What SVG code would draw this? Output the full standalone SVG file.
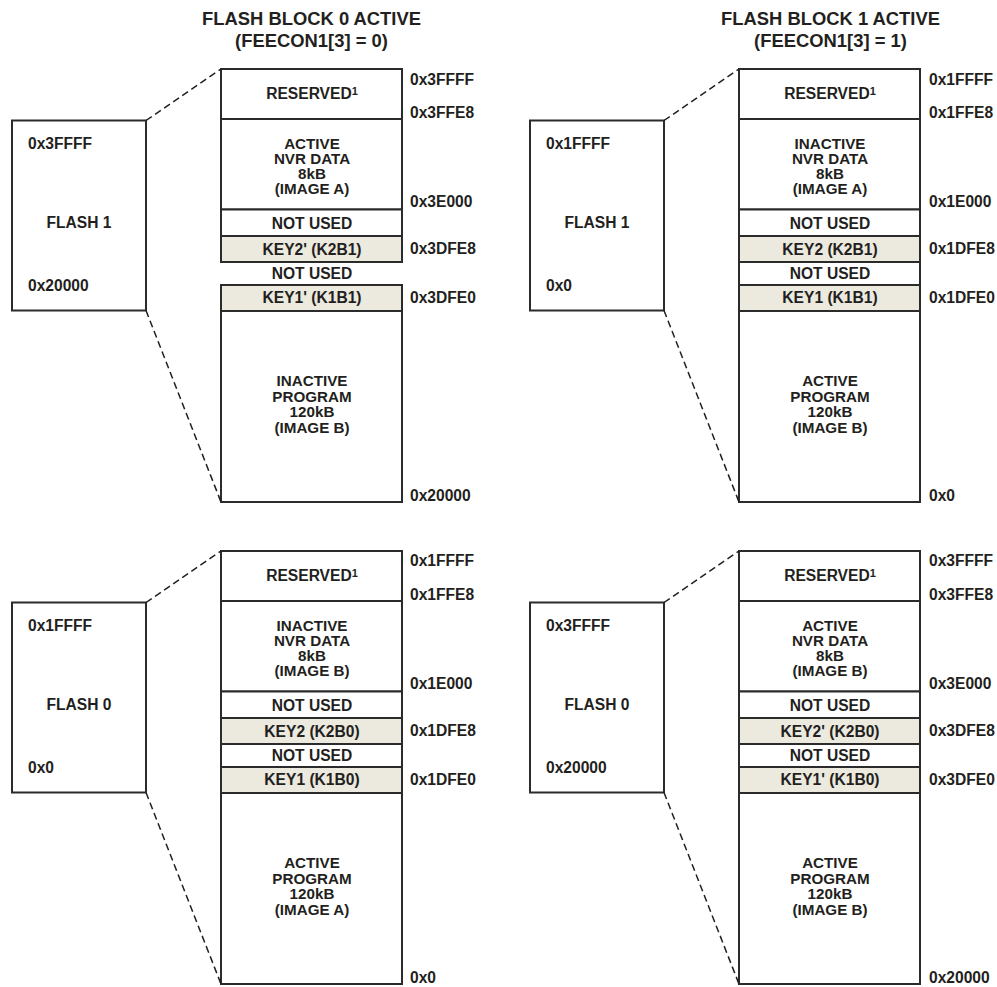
<svg xmlns="http://www.w3.org/2000/svg" width="997" height="987" viewBox="0 0 997 987">
<style>
  text { font-family: "Liberation Sans", Arial, Helvetica, sans-serif; font-weight: bold; fill: #231f20; font-size: 15.6px; }
  .title { font-size: 18.4px; text-anchor: middle; }
  .c { text-anchor: middle; }
  .m { font-size: 15.2px; }
  .box { fill: #ffffff; stroke: #2b2b2b; stroke-width: 2; }
  .key { fill: #ece9df; stroke: #2b2b2b; stroke-width: 2; }
  .dash { fill: none; stroke: #231f20; stroke-width: 1.5; stroke-dasharray: 7 4; }
  .sup { font-size: 11px; }
</style>
<rect width="997" height="987" fill="#ffffff"/>

<!-- Quadrant 1: top-left -->
<g id="q-b0-flash1" transform="translate(0,0)">
  <text class="title" x="311.5" y="25">FLASH BLOCK 0 ACTIVE</text>
  <text class="title" x="311.5" y="47">(FEECON1[3] = 0)</text>
  <g id="q1-flash"><rect class="box" x="12" y="120.5" width="134" height="190"/>
    <text x="28" y="149">0x3FFFF</text><text class="c" x="79" y="228">FLASH 1</text><text x="28" y="291">0x20000</text></g>
  <g id="q1-reserved"><rect class="box" x="221" y="69" width="181" height="50"/>
    <text class="c" x="312" y="99">RESERVED<tspan class="sup" dy="-4.5">1</tspan></text></g>
  <g id="q1-nvr"><rect class="box" x="221" y="119" width="181" height="90.5"/>
    <text class="c m" x="312" y="149">ACTIVE</text><text class="c m" x="312" y="164">NVR DATA</text><text class="c m" x="312" y="179">8kB</text><text class="c m" x="312" y="194">(IMAGE A)</text></g>
  <g id="q1-notused1"><rect class="box" x="221" y="209.5" width="181" height="26.5"/>
    <text class="c" x="312" y="229">NOT USED</text></g>
  <g id="q1-key2"><rect class="key" x="221" y="236" width="181" height="26"/>
    <text class="c" x="312" y="255">KEY2' (K2B1)</text></g>
  <g id="q1-notused2"><text class="c" x="312" y="279">NOT USED</text></g>
  <g id="q1-key1"><rect class="key" x="221" y="285" width="181" height="26"/>
    <text class="c" x="312" y="303">KEY1' (K1B1)</text></g>
  <g id="q1-program"><rect class="box" x="221" y="311" width="181" height="191"/>
    <text class="c m" x="312" y="386">INACTIVE</text><text class="c m" x="312" y="401.5">PROGRAM</text><text class="c m" x="312" y="417">120kB</text><text class="c m" x="312" y="432.5">(IMAGE B)</text></g>
  <g id="q1-addr">
    <text x="410" y="85">0x3FFFF</text><text x="410" y="118">0x3FFE8</text><text x="410" y="207">0x3E000</text>
    <text x="410" y="254">0x3DFE8</text><text x="410" y="303">0x3DFE0</text><text x="410" y="501">0x20000</text></g>
</g>

<!-- Quadrant 2: top-right -->
<g id="q-b1-flash1" transform="translate(518,0)">
  <text class="title" x="312.5" y="25">FLASH BLOCK 1 ACTIVE</text>
  <text class="title" x="312.5" y="47">(FEECON1[3] = 1)</text>
  <g id="q2-flash"><rect class="box" x="12" y="120.5" width="134" height="190"/>
    <text x="28" y="149">0x1FFFF</text><text class="c" x="79" y="228">FLASH 1</text><text x="28" y="291">0x0</text></g>
  <g id="q2-reserved"><rect class="box" x="221" y="69" width="181" height="50"/>
    <text class="c" x="312" y="99">RESERVED<tspan class="sup" dy="-4.5">1</tspan></text></g>
  <g id="q2-nvr"><rect class="box" x="221" y="119" width="181" height="90.5"/>
    <text class="c m" x="312" y="149">INACTIVE</text><text class="c m" x="312" y="164">NVR DATA</text><text class="c m" x="312" y="179">8kB</text><text class="c m" x="312" y="194">(IMAGE A)</text></g>
  <g id="q2-notused1"><rect class="box" x="221" y="209.5" width="181" height="26.5"/>
    <text class="c" x="312" y="229">NOT USED</text></g>
  <g id="q2-key2"><rect class="key" x="221" y="236" width="181" height="26"/>
    <text class="c" x="312" y="255">KEY2 (K2B1)</text></g>
  <g id="q2-notused2"><rect class="box" x="221" y="262" width="181" height="23"/>
    <text class="c" x="312" y="279">NOT USED</text></g>
  <g id="q2-key1"><rect class="key" x="221" y="285" width="181" height="26"/>
    <text class="c" x="312" y="303">KEY1 (K1B1)</text></g>
  <g id="q2-program"><rect class="box" x="221" y="311" width="181" height="191"/>
    <text class="c m" x="312" y="386">ACTIVE</text><text class="c m" x="312" y="401.5">PROGRAM</text><text class="c m" x="312" y="417">120kB</text><text class="c m" x="312" y="432.5">(IMAGE B)</text></g>
  <g id="q2-addr">
    <text x="411" y="85">0x1FFFF</text><text x="411" y="118">0x1FFE8</text><text x="411" y="207">0x1E000</text>
    <text x="411" y="254">0x1DFE8</text><text x="411" y="303">0x1DFE0</text><text x="411" y="501">0x0</text></g>
</g>

<!-- Quadrant 3: bottom-left -->
<g id="q-b0-flash0" transform="translate(0,482)">
  <g id="q3-flash"><rect class="box" x="12" y="120.5" width="134" height="190"/>
    <text x="28" y="149">0x1FFFF</text><text class="c" x="79" y="228">FLASH 0</text><text x="28" y="291">0x0</text></g>
  <g id="q3-reserved"><rect class="box" x="221" y="69" width="181" height="50"/>
    <text class="c" x="312" y="99">RESERVED<tspan class="sup" dy="-4.5">1</tspan></text></g>
  <g id="q3-nvr"><rect class="box" x="221" y="119" width="181" height="90.5"/>
    <text class="c m" x="312" y="149">INACTIVE</text><text class="c m" x="312" y="164">NVR DATA</text><text class="c m" x="312" y="179">8kB</text><text class="c m" x="312" y="194">(IMAGE B)</text></g>
  <g id="q3-notused1"><rect class="box" x="221" y="209.5" width="181" height="26.5"/>
    <text class="c" x="312" y="229">NOT USED</text></g>
  <g id="q3-key2"><rect class="key" x="221" y="236" width="181" height="26"/>
    <text class="c" x="312" y="255">KEY2 (K2B0)</text></g>
  <g id="q3-notused2"><rect class="box" x="221" y="262" width="181" height="23"/>
    <text class="c" x="312" y="279">NOT USED</text></g>
  <g id="q3-key1"><rect class="key" x="221" y="285" width="181" height="26"/>
    <text class="c" x="312" y="303">KEY1 (K1B0)</text></g>
  <g id="q3-program"><rect class="box" x="221" y="311" width="181" height="191"/>
    <text class="c m" x="312" y="386">ACTIVE</text><text class="c m" x="312" y="401.5">PROGRAM</text><text class="c m" x="312" y="417">120kB</text><text class="c m" x="312" y="432.5">(IMAGE A)</text></g>
  <g id="q3-addr">
    <text x="410" y="84">0x1FFFF</text><text x="410" y="118">0x1FFE8</text><text x="410" y="207">0x1E000</text>
    <text x="410" y="254">0x1DFE8</text><text x="410" y="303">0x1DFE0</text><text x="410" y="501">0x0</text></g>
</g>

<!-- Quadrant 4: bottom-right -->
<g id="q-b1-flash0" transform="translate(518,482)">
  <g id="q4-flash"><rect class="box" x="12" y="120.5" width="134" height="190"/>
    <text x="28" y="149">0x3FFFF</text><text class="c" x="79" y="228">FLASH 0</text><text x="28" y="291">0x20000</text></g>
  <g id="q4-reserved"><rect class="box" x="221" y="69" width="181" height="50"/>
    <text class="c" x="312" y="99">RESERVED<tspan class="sup" dy="-4.5">1</tspan></text></g>
  <g id="q4-nvr"><rect class="box" x="221" y="119" width="181" height="90.5"/>
    <text class="c m" x="312" y="149">ACTIVE</text><text class="c m" x="312" y="164">NVR DATA</text><text class="c m" x="312" y="179">8kB</text><text class="c m" x="312" y="194">(IMAGE B)</text></g>
  <g id="q4-notused1"><rect class="box" x="221" y="209.5" width="181" height="26.5"/>
    <text class="c" x="312" y="229">NOT USED</text></g>
  <g id="q4-key2"><rect class="key" x="221" y="236" width="181" height="26"/>
    <text class="c" x="312" y="255">KEY2' (K2B0)</text></g>
  <g id="q4-notused2"><rect class="box" x="221" y="262" width="181" height="23"/>
    <text class="c" x="312" y="279">NOT USED</text></g>
  <g id="q4-key1"><rect class="key" x="221" y="285" width="181" height="26"/>
    <text class="c" x="312" y="303">KEY1' (K1B0)</text></g>
  <g id="q4-program"><rect class="box" x="221" y="311" width="181" height="191"/>
    <text class="c m" x="312" y="386">ACTIVE</text><text class="c m" x="312" y="401.5">PROGRAM</text><text class="c m" x="312" y="417">120kB</text><text class="c m" x="312" y="432.5">(IMAGE B)</text></g>
  <g id="q4-addr">
    <text x="411" y="84">0x3FFFF</text><text x="411" y="118">0x3FFE8</text><text x="411" y="207">0x3E000</text>
    <text x="411" y="254">0x3DFE8</text><text x="411" y="303">0x3DFE0</text><text x="411" y="501">0x20000</text></g>
</g>

<!-- Connectors: dashed zoom lines -->
<g id="connectors">
  <line class="dash" x1="146" y1="120.5" x2="221" y2="69"/>
  <line class="dash" x1="146" y1="310.5" x2="221" y2="502"/>
  <line class="dash" x1="664" y1="120.5" x2="739" y2="69"/>
  <line class="dash" x1="664" y1="310.5" x2="739" y2="502"/>
  <line class="dash" x1="146" y1="602.5" x2="221" y2="551"/>
  <line class="dash" x1="146" y1="792.5" x2="221" y2="984"/>
  <line class="dash" x1="664" y1="602.5" x2="739" y2="551"/>
  <line class="dash" x1="664" y1="792.5" x2="739" y2="984"/>
</g>
</svg>
